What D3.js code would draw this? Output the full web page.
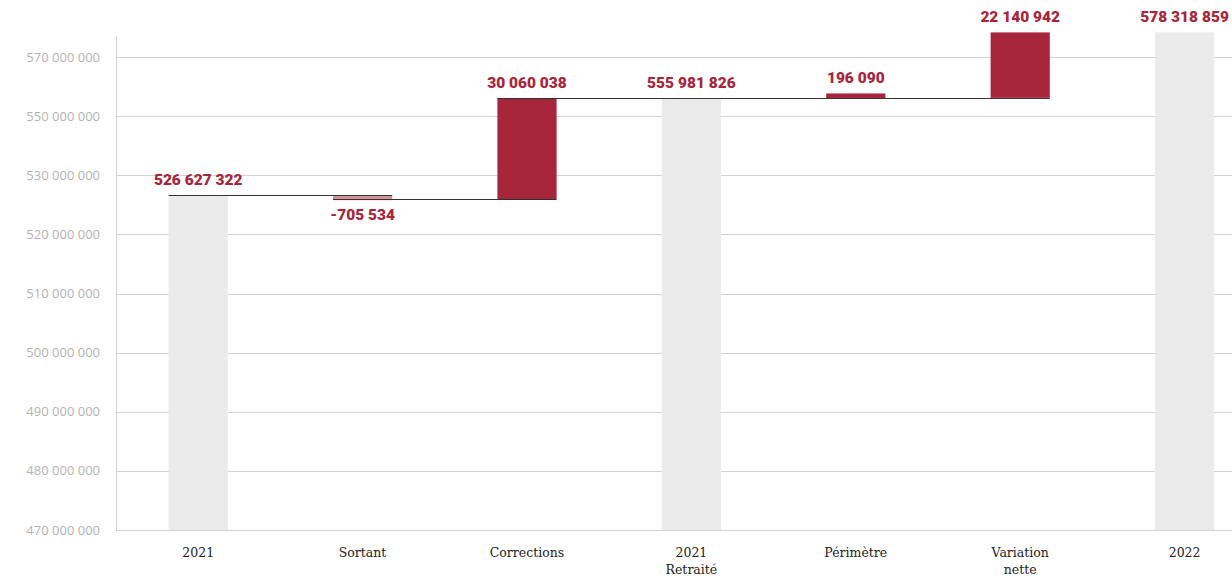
<!DOCTYPE html>
<html lang="fr">
<head>
<meta charset="utf-8">
<title>Waterfall 2021 - 2022</title>
<script src="https://d3js.org/d3.v7.min.js"></script>
<style>
  body { margin: 0; background: #fff; }
  svg { display: block; }
  .ytick text { font-family: "Open Sans", sans-serif; font-size: 13px; fill: #b3b3b3; }
  .xlab { font-family: "DejaVu Serif", serif; font-size: 12.5px; fill: #222; }
  .val { font-family: "Roboto", sans-serif; font-weight: 900; font-size: 15.5px; fill: #a8263b; }
</style>
</head>
<body>
<div id="chart"></div>
<script>
// data
var categories = ["2021", "Sortant", "Corrections", "2021|Retraité", "Périmètre", "Variation|nette", "2022"];
var values = [526627322, -705534, 30060038, 555981826, 196090, 22140942, 578318859];
var isTotal = [true, false, false, true, false, false, true];
var tickValues = [470e6, 480e6, 490e6, 500e6, 510e6, 520e6, 530e6, 550e6, 570e6];

var W = 1232, H = 580;
var margin = {left: 116, top: 36, bottom: 50};
var plotBottom = H - margin.bottom;   // 530
var minH = 5;

// axis in the source is not uniform: ticks are evenly spaced, so build a piecewise scale
var step = (plotBottom - 57) / (tickValues.length - 1);
var yDomain = tickValues.concat([580e6]);
var yRange = tickValues.map(function(d, i) { return plotBottom - i * step; });
yRange.push(yRange[yRange.length - 1] - step / 2);
var y = d3.scaleLinear().domain(yDomain).range(yRange);

var x = d3.scaleBand()
  .domain(categories)
  .range([margin.left, margin.left + 164.4 * 7])
  .paddingInner(0.64)
  .paddingOuter(0.32);

// running totals
var bars = [];
var run = 0;
values.forEach(function(v, i) {
  var start, end;
  if (isTotal[i]) { start = tickValues[0]; end = v; run = v; }
  else { start = run; end = run + v; run = end; }
  bars.push({cat: categories[i], v: v, start: start, end: end, total: isTotal[i]});
});

function barTop(d) {
  var a = y(d.start), b = y(d.end);
  var h = Math.abs(a - b);
  if (d.v >= 0) return Math.min(a, b) - Math.max(0, minH - h);
  return Math.min(a, b);
}
function barH(d) { return Math.max(minH, Math.abs(y(d.start) - y(d.end))); }

var svg = d3.select("#chart").append("svg")
  .attr("width", W).attr("height", H);

// grid + y labels
var g = svg.append("g").attr("class", "ytick");
g.selectAll("line").data(tickValues).enter().append("line")
  .attr("x1", margin.left).attr("x2", W)
  .attr("y1", function(d) { return Math.round(y(d)) + 0.5; })
  .attr("y2", function(d) { return Math.round(y(d)) + 0.5; })
  .attr("stroke", "#d2d2d2").attr("stroke-width", 1);
g.selectAll("text").data(tickValues).enter().append("text")
  .attr("x", margin.left - 16)
  .attr("y", function(d) { return y(d); })
  .attr("dy", "0.35em")
  .attr("text-anchor", "end")
  .text(function(d) { return d3.format(",")(d).replace(/,/g, " "); });

svg.append("line")
  .attr("x1", margin.left + 0.5).attr("x2", margin.left + 0.5)
  .attr("y1", margin.top).attr("y2", plotBottom)
  .attr("stroke", "#d2d2d2");

// bars
svg.append("g").selectAll("rect").data(bars).enter().append("rect")
  .attr("x", function(d) { return x(d.cat); })
  .attr("width", x.bandwidth())
  .attr("y", barTop)
  .attr("height", barH)
  .attr("fill", function(d) {
    if (d.total) return "#ebebeb";
    return d.v < 0 ? "#d69394" : "#a8263b";
  });

// connectors
var conn = bars.slice(0, bars.length - 2);
svg.append("g").selectAll("line").data(conn).enter().append("line")
  .attr("x1", function(d) { return x(d.cat); })
  .attr("x2", function(d, i) { return x(bars[i + 1].cat) + x.bandwidth(); })
  .attr("y1", function(d) { return Math.round(y(d.end)) + 0.5; })
  .attr("y2", function(d) { return Math.round(y(d.end)) + 0.5; })
  .attr("stroke", "#333").attr("stroke-width", 1.2);

// value labels
svg.append("g").selectAll("text").data(bars).enter().append("text")
  .attr("class", "val")
  .attr("x", function(d) { return x(d.cat) + x.bandwidth() / 2; })
  .attr("y", function(d) {
    if (d.v < 0) return barTop(d) + barH(d) + 20;
    return barTop(d) - 10;
  })
  .attr("text-anchor", "middle")
  .text(function(d) { return d3.format(",")(d.v).replace(/,/g, " ").replace("−", "-"); });

// category labels
var xl = svg.append("g").selectAll("text").data(categories).enter().append("text")
  .attr("class", "xlab")
  .attr("x", function(d) { return x(d) + x.bandwidth() / 2; })
  .attr("y", plotBottom + 27)
  .attr("text-anchor", "middle");
xl.each(function(d) {
  var t = d3.select(this);
  d.split("|").forEach(function(part, i) {
    t.append("tspan")
      .attr("x", t.attr("x"))
      .attr("dy", i === 0 ? 0 : 17)
      .text(part);
  });
});
</script>
</body>
</html>
